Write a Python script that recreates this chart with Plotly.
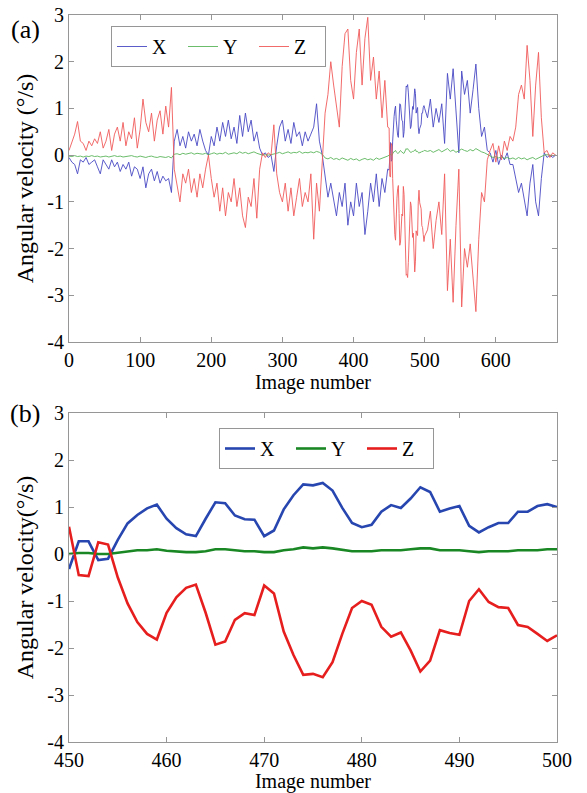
import plotly.graph_objects as go

# ---------------- data: panel (a), coarse samples (images 0..448 step 4) ----------------
img_early = list(range(0, 449, 4))
x_early = [-0.05, -0.15, -0.2, -0.4, -0.1, -0.15, -0.05, -0.2, -0.15, -0.1,
           -0.25, -0.4, -0.1, -0.2, -0.3, -0.1, -0.25, -0.15, -0.35, -0.2,
           -0.3, -0.15, -0.45, -0.25, -0.3, -0.5, -0.25, -0.7, -0.4, -0.3,
           -0.55, -0.35, -0.6, -0.45, -0.55, -0.5, -0.8,
           0.3, 0.55, 0.2, 0.4, 0.15, 0.5, 0.3, 0.45, 0.2, 0.55,
           0.3, 0.1, 0.0, 0.4, 0.2, 0.6, 0.3, 0.7, 0.4, 0.75,
           0.35, 0.6, 0.25, 0.85, 0.4, 0.9, 0.5, 0.75, 0.3, 0.5, 0.15,
           0.0, 0.05, -0.05, 0.0, -0.35,
           0.2, 0.6, 0.75, 0.3, 0.55, 0.25, 0.7, 0.4, 0.5, 0.2, 0.5, 0.3, 0.45, 0.6, 1.1, 0.3,
           0.0, -0.5, -0.9, -0.6, -1.0, -1.3, -0.8, -1.1, -0.6, -1.5, -1.0, -1.3,
           -0.6, -1.1, -0.8, -1.7, -1.2, -0.6, -1.0, -0.4, -1.1, -0.5, -0.8, -0.3]
y_early = [-0.02, -0.03, -0.01, -0.03, -0.02, -0.04, -0.02, -0.03, -0.01, -0.03,
           -0.02, -0.04, -0.03, -0.02, -0.04, -0.03, -0.01, -0.03, -0.02, -0.04,
           -0.03, -0.02, -0.01, -0.03, -0.04, -0.02, -0.03, -0.05, -0.03, -0.02,
           -0.04, -0.05, -0.03, -0.04, -0.05, -0.03, -0.06,
           0.02, 0.03, 0.01, 0.04, 0.02, 0.03, 0.05, 0.02, 0.04, 0.03,
           0.02, 0.04, 0.01, 0.03, 0.05, 0.02, 0.04, 0.03, 0.06, 0.02,
           0.04, 0.05, 0.03, 0.07, 0.04, 0.06, 0.03, 0.05, 0.07, 0.04, 0.02,
           0.0, 0.01, 0.0, 0.01, 0.02,
           0.04, 0.06, 0.03, 0.05, 0.07, 0.04, 0.06, 0.05, 0.08, 0.04, 0.06, 0.05, 0.07, 0.05, 0.08, 0.06,
           0.02, -0.06, -0.08, -0.05, -0.09, -0.07, -0.1, -0.06, -0.09, -0.11, -0.07, -0.1,
           -0.08, -0.12, -0.09, -0.07, -0.1, -0.08, -0.11, -0.06, -0.09, -0.07, -0.05, -0.02]
z_early = [0.1, 0.3, 0.45, 0.72, 0.3, 0.25, 0.1, 0.3, 0.2, 0.35,
           0.25, 0.5, 0.15, 0.3, 0.55, 0.1, 0.45, 0.6, 0.3, 0.7,
           0.2, 0.5, 0.35, 0.8, 0.15, 0.55, 1.2, 0.7, 0.5, 0.9,
           0.3, 0.75, 0.95, 0.45, 1.05, 0.6, 1.45,
           -0.3, -0.7, -1.0, -0.4, -0.6, -0.3, -0.8, -0.5, -0.9, -0.4,
           -0.7, -0.3, 0.0, -0.5, -0.9, -0.6, -1.2, -0.7, -1.3, -0.8,
           -1.0, -0.5, -1.1, -0.7, -1.3, -1.55, -0.9, -1.1, -0.5, -1.35, -0.3,
           0.05, -0.05, 0.05, 0.0, 0.65,
           -0.4, -0.8, -1.0, -0.6, -1.2, -0.7, -1.3, -0.9, -0.5, -1.1, -0.8, -1.0, -0.4, -1.8, -0.6, -1.2,
           0.0, 0.9, 1.3, 2.0, 1.5, 1.1, 0.6, 1.9, 2.6, 2.7, 1.6, 1.2,
           2.2, 2.7, 1.5, 2.5, 2.95, 1.6, 2.1, 1.2, 1.8, 0.8, 1.6, 0.6]

# ---------------- data: detail, images 450..500 (panel b, also part of panel a) ----------------
img_detail = list(range(450, 501))
x_detail = [-0.32, 0.27, 0.27, -0.13, -0.1, 0.3, 0.65, 0.83, 0.97, 1.05,
            0.75, 0.55, 0.42, 0.38, 0.75, 1.1, 1.08, 0.82, 0.74, 0.73,
            0.38, 0.5, 0.95, 1.25, 1.48, 1.46, 1.51, 1.35, 0.98, 0.66,
            0.57, 0.62, 0.9, 1.04, 0.98, 1.18, 1.42, 1.32, 0.9, 0.97,
            1.02, 0.6, 0.46, 0.57, 0.66, 0.66, 0.9, 0.9, 1.02, 1.06, 1.0]
y_detail = [0.0, 0.02, 0.02, 0.0, 0.0, 0.03, 0.06, 0.08, 0.08, 0.1,
            0.07, 0.05, 0.04, 0.04, 0.06, 0.1, 0.1, 0.08, 0.06, 0.06,
            0.04, 0.04, 0.08, 0.1, 0.14, 0.12, 0.14, 0.12, 0.09, 0.06,
            0.06, 0.06, 0.08, 0.08, 0.08, 0.1, 0.12, 0.12, 0.08, 0.08,
            0.08, 0.06, 0.04, 0.06, 0.06, 0.06, 0.08, 0.08, 0.08, 0.1, 0.1]
z_detail = [0.58, -0.45, -0.47, 0.25, 0.2, -0.5, -1.05, -1.45, -1.7, -1.82,
            -1.25, -0.92, -0.72, -0.65, -1.25, -1.93, -1.86, -1.4, -1.26, -1.3,
            -0.67, -0.84, -1.65, -2.15, -2.57, -2.55, -2.62, -2.3, -1.7, -1.15,
            -1.0, -1.08, -1.55, -1.76, -1.67, -2.05, -2.5, -2.27, -1.62, -1.68,
            -1.72, -1.0, -0.75, -1.02, -1.13, -1.15, -1.51, -1.55, -1.7, -1.85, -1.73]

# ---------------- data: panel (a), coarse samples (images 504..684 step 4) ----------------
img_late = list(range(504, 685, 4))
x_late = [0.8, 1.2, 0.6, 1.0, 0.7, 1.1, 0.25, 1.75, 1.2, 1.85, 0.9,
          0.05, 1.8, 1.3, 1.6, 0.9, 1.4, 1.95, 1.0, 0.4, 0.6, 0.1,
          0.05, -0.15, 0.1, -0.2, 0.0, -0.1, 0.05, -0.2,
          -0.2, -0.5, -0.8, -0.6, -1.0, -1.3, -0.6, -0.2, -1.0, -1.3, -0.5,
          0.05, -0.05, 0.0, -0.05, 0.0]
y_late = [0.08, 0.1, 0.06, 0.09, 0.12, 0.07, 0.1, 0.14, 0.08, 0.11, 0.06,
          0.09, 0.13, 0.1, 0.08, 0.12, 0.09, 0.14, 0.1, 0.07, 0.05, 0.02,
          -0.02, -0.05, -0.03, -0.06, -0.04, -0.07, -0.05, -0.08,
          -0.06, -0.09, -0.05, -0.08, -0.06, -0.1, -0.07, -0.05, -0.09, -0.06, -0.03,
          0.0, 0.01, 0.0, -0.01, 0.0]
z_late = [-1.6, -1.2, -2.0, -1.4, -1.0, -1.7, -0.4, -2.9, -1.8, -3.15, -1.5,
          -0.3, -3.25, -2.0, -2.4, -1.9, -2.6, -3.35, -1.8, -0.8, -1.0, -0.1,
          0.1, 0.25, -0.15, 0.2, -0.1, 0.3, 0.1, 0.4,
          0.3, 0.6, 1.3, 1.5, 1.2, 2.35, 1.6, 0.4, 1.5, 2.2, 0.8,
          0.05, 0.1, -0.05, 0.05, 0.0]

series_names = ["X", "Y", "Z"]
ytick_vals = [-4, -3, -2, -1, 0, 1, 2, 3]
ytick_text = ["-4", "-3", "-2", "-1", "0", "1", "2", "3"]

# ---------------- figure ----------------
FONT = "Liberation Serif"
thin_colors = ["rgb(72,72,196)", "rgb(90,180,90)", "rgb(240,90,90)"]
bold_colors = ["rgb(40,70,175)", "rgb(25,135,35)", "rgb(230,30,30)"]

img_a = img_early + img_detail + img_late
vals_a = [x_early + x_detail + x_late,
          y_early + y_detail + y_late,
          z_early + z_detail + z_late]
vals_b = [x_detail, y_detail, z_detail]

fig = go.Figure()
for name, vals, col in zip(series_names, vals_a, thin_colors):
    fig.add_trace(go.Scatter(x=img_a, y=vals, mode="lines", name=name,
                             line=dict(color=col, width=0.9),
                             xaxis="x", yaxis="y", legend="legend"))
for name, vals, col in zip(series_names, vals_b, bold_colors):
    fig.add_trace(go.Scatter(x=img_detail, y=vals, mode="lines", name=name,
                             line=dict(color=col, width=2.6),
                             xaxis="x2", yaxis="y2", legend="legend2"))

TICK_SIZE = 20
axis_common = dict(showline=True, linecolor="rgb(150,150,150)", linewidth=1,
                   mirror="ticks", ticks="inside", ticklen=5,
                   tickcolor="rgb(150,150,150)", showgrid=False, zeroline=False,
                   ticklabeloverflow="allow",
                   tickfont=dict(family=FONT, size=TICK_SIZE, color="black"))

# page body has an 8px margin: figure is laid out so the plot lands at screen pixels
OFF = 8
W, H = 587 - OFF, 793 - OFF
L, R, T, B = 69 - OFF, 30, 13 - OFF, 51 - OFF
pw = W - L - R
ph = H - T - B

def py(screen_y):
    return (H - B - (screen_y - OFF)) / ph

def px(screen_x):
    return (screen_x - OFF - L) / pw

leg_common = dict(orientation="h", xanchor="left", yanchor="top",
                  bordercolor="rgb(150,150,150)", borderwidth=1, bgcolor="white",
                  font=dict(family=FONT, size=20, color="black"),
                  entrywidth=26, entrywidthmode="pixels")

xtitle_font = dict(family=FONT, size=20)
ytitle_font = dict(family=FONT, size=24)

fig.update_layout(
    width=W, height=H,
    margin=dict(l=L, r=R, t=T, b=B, autoexpand=False),
    paper_bgcolor="white", plot_bgcolor="white",
    font=dict(family=FONT, size=20, color="black"),
    xaxis=dict(axis_common, range=[0, 686], dtick=100, tick0=0,
               domain=[0, 1], anchor="y",
               title=dict(text="Image number", font=xtitle_font, standoff=2)),
    yaxis=dict(axis_common, range=[-4, 3], tickvals=ytick_vals, ticktext=ytick_text,
               domain=[py(342), py(15)], anchor="x",
               title=dict(text="Angular velocity (°/s)", font=ytitle_font, standoff=6)),
    xaxis2=dict(axis_common, range=[450, 500], dtick=10, tick0=450,
                domain=[0, 1], anchor="y2",
                title=dict(text="Image number", font=xtitle_font, standoff=2)),
    yaxis2=dict(axis_common, range=[-4, 3], tickvals=ytick_vals, ticktext=ytick_text,
                domain=[py(742), py(413)], anchor="x2",
                title=dict(text="Angular velocity(°/s)", font=ytitle_font, standoff=6)),
    legend=dict(leg_common, x=px(111), y=py(26)),
    legend2=dict(leg_common, x=px(219), y=py(428)),
    showlegend=True,
    annotations=[
        dict(text="(a)", x=px(25), y=1.0, xref="paper", yref="paper",
             showarrow=False, xanchor="center", yanchor="top",
             font=dict(family=FONT, size=26, color="black")),
        dict(text="(b)", x=px(25), y=py(413), xref="paper", yref="paper",
             showarrow=False, xanchor="center", yanchor="middle",
             font=dict(family=FONT, size=26, color="black")),
    ],
)

fig.write_html("out.html")
